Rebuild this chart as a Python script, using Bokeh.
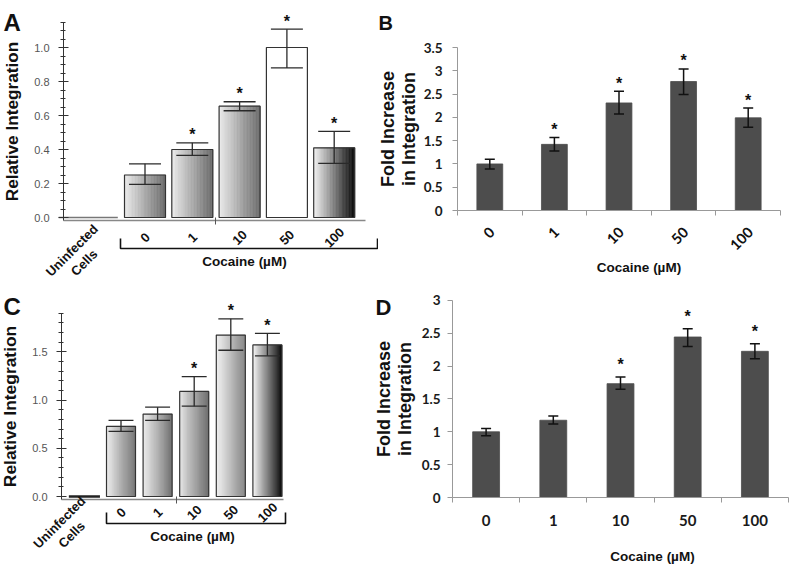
import math
from bokeh.plotting import figure
from bokeh.models import (ColumnDataSource, FixedTicker, Label, PolyAnnotation,
                          Range1d, NumeralTickFormatter)
from bokeh.layouts import row, column
from bokeh.embed import file_html
from bokeh.resources import INLINE
from bokeh.core.properties import value

ARIAL = "Liberation Sans"
LATO = "Lato"

# ---------------- data ----------------
dose_labels = ["0", "1", "10", "50", "100"]
control_label = "Uninfected\nCells"
x_title = "Cocaine (µM)"

a_control = 0.0
a_values = [0.25, 0.40, 0.655, 1.00, 0.41]
a_err_lo = [0.195, 0.365, 0.628, 0.88, 0.318]
a_err_hi = [0.316, 0.439, 0.681, 1.108, 0.507]
a_sig = [False, True, True, True, True]

b_values = [1.00, 1.42, 2.31, 2.77, 1.99]
b_err_lo = [0.89, 1.28, 2.07, 2.49, 1.79]
b_err_hi = [1.10, 1.57, 2.56, 3.04, 2.20]
b_sig = [False, True, True, True, True]

c_control = 0.0
c_values = [0.728, 0.855, 1.09, 1.675, 1.572]
c_err_lo = [0.676, 0.79, 0.937, 1.517, 1.459]
c_err_hi = [0.79, 0.927, 1.243, 1.843, 1.692]
c_sig = [False, False, True, True, True]

d_values = [1.00, 1.176, 1.733, 2.443, 2.225]
d_err_lo = [0.94, 1.12, 1.647, 2.30, 2.11]
d_err_hi = [1.05, 1.24, 1.835, 2.57, 2.34]
d_sig = [False, False, True, True, True]

# styles (gradient colours of the relative-integration bars)
a_grad_start = ["#ececec", "#ececec", "#ececec", "#ffffff", "#f6f6f6"]
a_grad_end = ["#6a6a6a", "#6a6a6a", "#6a6a6a", "#ffffff", "#080808"]
c_grad_start = ["#eeeeee", "#eeeeee", "#e6e6e6", "#f2f2f2", "#fafafa"]
c_grad_end = ["#727272", "#727272", "#686868", "#868686", "#060606"]


def mix(c0, c1, t):
    a = [int(c0[i:i + 2], 16) for i in (1, 3, 5)]
    b = [int(c1[i:i + 2], 16) for i in (1, 3, 5)]
    return "#%02x%02x%02x" % tuple(round(a[k] + (b[k] - a[k]) * t) for k in range(3))


def base_fig(W, H, org, ax, ay):
    ox, oy = org
    p = figure(width=W, height=H,
               x_range=Range1d(ax(ox), ax(ox + W)), y_range=Range1d(ay(oy + H), ay(oy)),
               output_backend="svg", toolbar_location=None, title=None,
               min_border_left=0, min_border_right=0, min_border_top=0, min_border_bottom=0)
    p.outline_line_color = None
    p.xgrid.visible = False
    p.ygrid.visible = False
    p.background_fill_color = "white"
    p.border_fill_color = "white"
    return p


def gradient_bars(p, xs, tops, width, c_start, c_end, n=28):
    L_, R_, T_, C_ = [], [], [], []
    for x, t, c0, c1 in zip(xs, tops, c_start, c_end):
        for k in range(n):
            L_.append(x - width / 2 + width * k / n)
            R_.append(x - width / 2 + width * (k + 1) / n)
            T_.append(t)
            C_.append(mix(c0, c1, (k + 0.5) / n))
    p.quad(left=L_, right=R_, bottom=0, top=T_, fill_color=C_, line_color=C_, line_width=0.6)
    p.quad(left=[x - width / 2 for x in xs], right=[x + width / 2 for x in xs],
           bottom=0, top=tops, fill_color=None, line_color="#333333", line_width=1.2)


def error_bars(p, xs, lo, hi, cap, color, lw):
    p.segment(x0=xs, x1=xs, y0=lo, y1=hi, line_color=color, line_width=lw)
    p.segment(x0=[x - cap / 2 for x in xs], x1=[x + cap / 2 for x in xs], y0=hi, y1=hi,
              line_color=color, line_width=lw)
    p.segment(x0=[x - cap / 2 for x in xs], x1=[x + cap / 2 for x in xs], y0=lo, y1=lo,
              line_color=color, line_width=lw)


def stars(p, xs, hi, sig, yoff):
    sx = [x for x, s in zip(xs, sig) if s]
    sy = [h for h, s in zip(hi, sig) if s]
    src = ColumnDataSource(dict(x=sx, y=sy, t=["*"] * len(sx)))
    p.text(x="x", y="y", text="t", source=src, text_font=value(ARIAL),
           text_font_style="bold", text_font_size="16px", text_align="center",
           text_baseline="alphabetic", y_offset=yoff, text_color="#111111")


def tick_texts(p, xs, y, font, size, align, x_off):
    src = ColumnDataSource(dict(x=xs, y=[y] * len(xs), t=dose_labels))
    p.text(x="x", y="y", text="t", source=src, angle=math.pi / 4, text_font=value(font),
           text_font_style="bold", text_font_size=size, text_align=align,
           text_baseline="middle", x_offset=x_off, text_color="#111111")


def label(p, x, y, txt, size, align="center", baseline="middle", angle=0.0):
    p.add_layout(Label(x=x, y=y, text=txt, text_font=ARIAL, text_font_style="bold",
                       text_font_size=size, text_color="#111111", angle=angle,
                       text_align=align, text_baseline=baseline, text_line_height=1.15))


def relative_panel(W, H, org, frame, x_px0, x_ppu, y_px0, y_ppu, axis_top,
                   control, vals, lo, hi, sig, g0, g1, bar_px, cap_frac, ctrl_pos,
                   ctrl_w, major, minor_step, odd_tick, bracket, tick_y, ctrl_px,
                   title_px, letter_px, ctrl_color, ctrl_lw, axis_font):
    L, R, B = frame
    ax = lambda px: (px - x_px0) / x_ppu
    ay = lambda py: (y_px0 - py) / y_ppu
    p = base_fig(W, H, org, ax, ay)
    xs = list(range(len(dose_labels)))
    bw = bar_px / x_ppu
    # control (uninfected) shown as a flat bar at its value
    p.segment(x0=[ctrl_pos - ctrl_w / 2], x1=[ctrl_pos + ctrl_w / 2], y0=[control], y1=[control],
              line_color=ctrl_color, line_width=ctrl_lw)
    gradient_bars(p, xs, vals, bw, g0, g1)
    error_bars(p, xs, lo, hi, bw * cap_frac, "#2a2a2a", 1.3)
    stars(p, xs, hi, sig, -8)

    # y axis
    ya = p.yaxis[0]
    ya.fixed_location = ax(L)
    nmin = int(round(axis_top / minor_step))
    ya.ticker = FixedTicker(ticks=major, minor_ticks=[round(k * minor_step, 3) for k in range(nmin + 1)])
    ya.formatter = NumeralTickFormatter(format="0.0")
    ya.bounds = (ay(B), axis_top)
    ya.axis_line_color = "#333333"
    ya.major_tick_line_color = "#333333"
    ya.minor_tick_line_color = "#333333"
    ya.major_tick_in = 5
    ya.major_tick_out = 5
    ya.minor_tick_in = 2
    ya.minor_tick_out = 3
    ya.major_label_standoff = 9
    ya.major_label_text_font = ARIAL
    ya.major_label_text_font_size = "11px"
    ya.major_label_text_color = "#555555"
    ya.axis_label = "Relative Integration"
    ya.axis_label_text_font = ARIAL
    ya.axis_label_text_font_style = "bold"
    ya.axis_label_text_font_size = axis_font
    ya.axis_label_text_color = "#111111"
    ya.axis_label_standoff = 9

    # x axis (labels drawn as rotated texts below)
    xa = p.xaxis[0]
    xa.fixed_location = ay(B)
    xa.bounds = (ax(L), ax(R))
    xa.ticker = FixedTicker(ticks=[], minor_ticks=[odd_tick])
    xa.major_tick_in = 0
    xa.major_tick_out = 0
    xa.minor_tick_in = 3
    xa.minor_tick_out = 4
    xa.minor_tick_line_color = "#555555"
    xa.axis_line_color = "#888888"
    xa.axis_line_width = 1.3
    tick_texts(p, xs, ay(tick_y), ARIAL, "13px", "center", 0)
    label(p, ax(ctrl_px[0]), ay(ctrl_px[1]), control_label, "13px", angle=math.pi / 4)

    # bracket under the cocaine doses
    bl, br, bb, bt = bracket
    p.add_layout(PolyAnnotation(xs=[ax(bl), ax(bl), ax(br), ax(br), ax(br), ax(bl)],
                                ys=[ay(bt), ay(bb), ay(bb), ay(bt), ay(bb), ay(bb)],
                                fill_alpha=0, line_alpha=1.0, line_color="#111111",
                                line_width=1.6))
    label(p, ax(title_px[0]), ay(title_px[1]), x_title, "13.5px")
    label(p, ax(letter_px[0]), ay(letter_px[1]), letter_px[2], letter_px[3], "left", "alphabetic")
    return p


def fold_panel(W, H, org, frame, y_px0, y_ppu, axis_top, vals, lo, hi, sig, star_off,
               rotate, tick_y, title_px, letter_px, label_standoff, tick_standoff):
    L, R, B = frame
    n = len(dose_labels)
    x_ppu = (R - L) / n
    ax = lambda px: (px - L) / x_ppu
    ay = lambda py: (y_px0 - py) / y_ppu
    p = base_fig(W, H, org, ax, ay)
    xs = [i + 0.5 for i in range(n)]
    p.vbar(x=xs, top=vals, width=0.4, fill_color="#4d4d4d", line_color="#4d4d4d", line_width=0.8)
    error_bars(p, xs, lo, hi, 10 / x_ppu, "#111111", 1.5)
    stars(p, xs, hi, sig, star_off)

    ya = p.yaxis[0]
    ya.fixed_location = 0
    ya.ticker = FixedTicker(ticks=[k * 0.5 for k in range(int(axis_top / 0.5) + 1)], minor_ticks=[])
    ya.formatter = NumeralTickFormatter(format="0.[0]")
    ya.bounds = (0, axis_top)
    ya.axis_line_color = "#999999"
    ya.major_tick_line_color = "#999999"
    ya.major_tick_in = 0
    ya.major_tick_out = 5
    ya.major_label_standoff = tick_standoff
    ya.major_label_text_font = LATO
    ya.major_label_text_font_style = "bold"
    ya.major_label_text_font_size = "13.5px"
    ya.major_label_text_color = "#1a1a1a"
    ya.axis_label = "Fold Increase\nin Integration"
    ya.axis_label_text_font = ARIAL
    ya.axis_label_text_font_style = "bold"
    ya.axis_label_text_font_size = "18px"
    ya.axis_label_text_color = "#111111"
    ya.axis_label_text_line_height = 1.05
    ya.axis_label_standoff = label_standoff

    xa = p.xaxis[0]
    xa.fixed_location = 0
    xa.bounds = (0, n)
    xa.major_tick_in = 0
    xa.major_tick_out = 0
    xa.minor_tick_in = 0
    xa.minor_tick_out = 5
    xa.minor_tick_line_color = "#999999"
    xa.axis_line_color = "#999999"
    if rotate:
        xa.ticker = FixedTicker(ticks=[], minor_ticks=list(range(n + 1)))
        tick_texts(p, xs, ay(tick_y), LATO, "14.5px", "right", 2)
    else:
        xa.ticker = FixedTicker(ticks=xs, minor_ticks=list(range(n + 1)))
        xa.major_label_overrides = {x: lab for x, lab in zip(xs, dose_labels)}
        xa.major_label_standoff = 12
        xa.major_label_text_font = LATO
        xa.major_label_text_font_style = "bold"
        xa.major_label_text_font_size = "15px"
        xa.major_label_text_color = "#1a1a1a"

    label(p, ax(title_px[0]), ay(title_px[1]), x_title, "13.5px")
    label(p, ax(letter_px[0]), ay(letter_px[1]), letter_px[2], letter_px[3], "left", "alphabetic")
    return p


pA = relative_panel(378, 280, (0, 0), (63, 365, 220), 144.5, 47.3, 217, 170, 1.15,
                    a_control, a_values, a_err_lo, a_err_hi, a_sig, a_grad_start, a_grad_end,
                    41, 0.78, -1.2, 1.25, [0, 0.2, 0.4, 0.6, 0.8, 1.0], 0.05, 1.49,
                    (120, 377, 248, 238), 237, (77.5, 256), (244, 261), (3, 22, "A", "24px"),
                    "#777777", 1.5, "17.2px")

pB = fold_panel(413, 280, (378, 0), (457, 780, 210), 210, 46.57, 3.5,
                b_values, b_err_lo, b_err_hi, b_sig, -8, True, 229, (638.5, 267),
                (378, 22, "B", "20px"), 2, 10)

pC = relative_panel(358, 285, (0, 280), (61, 283, 499), 120.5, 36.6, 496, 96.4, 1.9,
                    c_control, c_values, c_err_lo, c_err_hi, c_sig, c_grad_start, c_grad_end,
                    29, 0.86, -1.0, 0.85, [0, 0.5, 1.0, 1.5], 0.1, 1.52,
                    (106, 285, 523, 512), 512, (65, 528), (192, 536), (3, 306, "C", "24px"),
                    "#222222", 2.5, "17.4px")

pD = fold_panel(433, 285, (358, 280), (452, 788, 497), 497, 65.7, 3.0,
                d_values, d_err_lo, d_err_hi, d_sig, -12, False, 518, (652, 556),
                (375, 307, "D", "22px"), 4, 7)

layout = column(row(pA, pB), row(pC, pD))
open("out.html", "w").write(file_html(layout, INLINE))
